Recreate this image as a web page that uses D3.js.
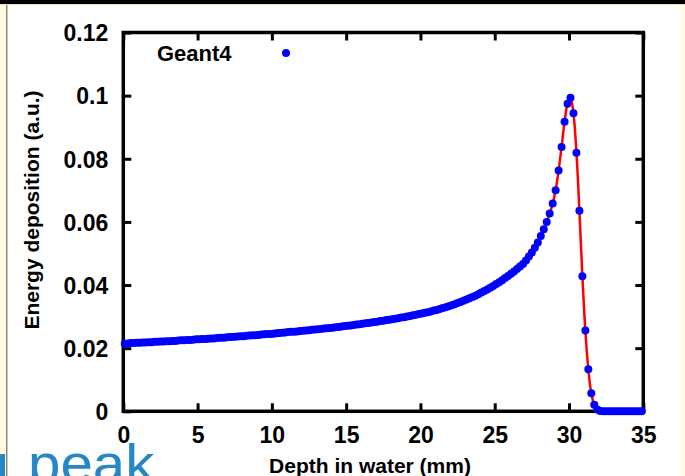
<!DOCTYPE html>
<html lang="en">
<head>
<meta charset="UTF-8">
<title>Bragg peak - Geant4</title>
<script src="https://cdn.jsdelivr.net/npm/d3@7"></script>
<style>
   html, body { margin: 0; padding: 0; background: #fff; }
   svg { display: block; }
   text { font-family: "Liberation Sans", Arial, Helvetica, sans-serif; }
   .tick text, .legend, .label { font-weight: bold; fill: #000; }
</style>
</head>
<body>
<div class="d3"></div>
<script>
// depth bins (mm) and Geant4 energy deposition (a.u.)
const depth = [
   0.1, 0.3, 0.5, 0.7, 0.9, 1.1, 1.3, 1.5, 1.7, 1.9,
   2.1, 2.3, 2.5, 2.7, 2.9, 3.1, 3.3, 3.5, 3.7, 3.9,
   4.1, 4.3, 4.5, 4.7, 4.9, 5.1, 5.3, 5.5, 5.7, 5.9,
   6.1, 6.3, 6.5, 6.7, 6.9, 7.1, 7.3, 7.5, 7.7, 7.9,
   8.1, 8.3, 8.5, 8.7, 8.9, 9.1, 9.3, 9.5, 9.7, 9.9,
   10.1, 10.3, 10.5, 10.7, 10.9, 11.1, 11.3, 11.5, 11.7, 11.9,
   12.1, 12.3, 12.5, 12.7, 12.9, 13.1, 13.3, 13.5, 13.7, 13.9,
   14.1, 14.3, 14.5, 14.7, 14.9, 15.1, 15.3, 15.5, 15.7, 15.9,
   16.1, 16.3, 16.5, 16.7, 16.9, 17.1, 17.3, 17.5, 17.7, 17.9,
   18.1, 18.3, 18.5, 18.7, 18.9, 19.1, 19.3, 19.5, 19.7, 19.9,
   20.1, 20.3, 20.5, 20.7, 20.9, 21.1, 21.3, 21.5, 21.7, 21.9,
   22.1, 22.3, 22.5, 22.7, 22.9, 23.1, 23.3, 23.5, 23.7, 23.9,
   24.1, 24.3, 24.5, 24.7, 24.9, 25.1, 25.3, 25.5, 25.7, 25.9,
   26.1, 26.3, 26.5, 26.7, 26.9, 27.1, 27.3, 27.5, 27.7, 27.9,
   28.1, 28.3, 28.5, 28.7, 28.9, 29.1, 29.3, 29.5, 29.7, 29.9,
   30.1, 30.3, 30.5, 30.7, 30.9, 31.1, 31.3, 31.5, 31.7, 31.9,
   32.1, 32.3, 32.5, 32.7, 32.9, 33.1, 33.3, 33.5, 33.7, 33.9,
   34.1, 34.3, 34.5, 34.7, 34.9
]
const edep = [
   0.0214, 0.0215, 0.0216, 0.0216, 0.0217, 0.0217, 0.0218, 0.0218, 0.0219, 0.0219,
   0.0220, 0.0220, 0.0221, 0.0221, 0.0222, 0.0222, 0.0223, 0.0223, 0.0224, 0.0225,
   0.0225, 0.0226, 0.0226, 0.0227, 0.0228, 0.0228, 0.0229, 0.0229, 0.0230, 0.0231,
   0.0231, 0.0232, 0.0233, 0.0233, 0.0234, 0.0235, 0.0235, 0.0236, 0.0237, 0.0238,
   0.0238, 0.0239, 0.0240, 0.0241, 0.0241, 0.0242, 0.0243, 0.0244, 0.0245, 0.0245,
   0.0246, 0.0247, 0.0248, 0.0249, 0.0250, 0.0251, 0.0252, 0.0252, 0.0253, 0.0254,
   0.0255, 0.0256, 0.0257, 0.0258, 0.0259, 0.0260, 0.0261, 0.0262, 0.0263, 0.0264,
   0.0265, 0.0266, 0.0267, 0.0269, 0.0270, 0.0271, 0.0272, 0.0273, 0.0275, 0.0276,
   0.0277, 0.0279, 0.0280, 0.0281, 0.0283, 0.0284, 0.0286, 0.0287, 0.0289, 0.0290,
   0.0292, 0.0293, 0.0295, 0.0297, 0.0298, 0.0300, 0.0302, 0.0304, 0.0306, 0.0308,
   0.0310, 0.0312, 0.0314, 0.0316, 0.0319, 0.0321, 0.0324, 0.0327, 0.0330, 0.0333,
   0.0336, 0.0339, 0.0343, 0.0346, 0.0350, 0.0354, 0.0358, 0.0362, 0.0366, 0.0371,
   0.0376, 0.0381, 0.0386, 0.0391, 0.0397, 0.0403, 0.0409, 0.0415, 0.0422, 0.0429,
   0.0436, 0.0443, 0.0451, 0.0459, 0.0467, 0.0478, 0.0490, 0.0503, 0.0518, 0.0535,
   0.0555, 0.0577, 0.0600, 0.0627, 0.0658, 0.0700, 0.0763, 0.0837, 0.0917, 0.0974,
   0.0993, 0.0944, 0.0819, 0.0635, 0.0428, 0.0256, 0.0133, 0.0057, 0.0021, 0.0006,
   0.0001, 0, 0, 0, 0, 0, 0, 0, 0, 0,
   0, 0, 0, 0, 0
]
// fitted curve drawn in red over the peak region
const fitFrom = 28.4
const fitTo = 32.0

const xTicks = [0, 5, 10, 15, 20, 25, 30, 35]
const yTicks = [0, 0.02, 0.04, 0.06, 0.08, 0.1, 0.12]
const yTickLabels = ['0', '0.02', '0.04', '0.06', '0.08', '0.1', '0.12']

const W = 685, H = 476
const frame = { left: 123.3, right: 643.3, top: 32.5, bottom: 411.3 }

const svg = d3.select('.d3').append('svg')
   .attr('width', W)
   .attr('height', H)

// slide background pieces
svg.append('rect').attr('x', 0).attr('y', 0).attr('width', W).attr('height', H).attr('fill', '#fff')
svg.append('rect').attr('x', 0).attr('y', 0).attr('width', 6).attr('height', H).attr('fill', '#fffbe3')
svg.append('rect').attr('x', 6).attr('y', 0).attr('width', 1.5).attr('height', H).attr('fill', '#8e8b6e')
svg.append('rect').attr('x', 681).attr('y', 0).attr('width', 4).attr('height', H).attr('fill', '#fffbe3')
svg.append('rect').attr('x', 0).attr('y', 0).attr('width', W).attr('height', 4).attr('fill', '#000')
svg.append('rect').attr('x', 0).attr('y', 4).attr('width', W).attr('height', 1).attr('fill', '#e8e4b8')

const x = d3.scaleLinear().domain([0, 35]).range([frame.left, frame.right])
const y = d3.scaleLinear().domain([0, 0.12]).range([frame.bottom, frame.top])

const tickLen = 8

// axes
const xAxis = svg.append('g')
   .attr('transform', `translate(0, ${frame.bottom})`)
   .call(d3.axisBottom(x).tickValues(xTicks).tickSize(-tickLen).tickPadding(0).tickFormat(d => d))
xAxis.select('.domain').remove()
xAxis.selectAll('.tick text').attr('y', 32).attr('dy', 0).style('font-size', '23px')

const xTop = svg.append('g')
   .attr('transform', `translate(0, ${frame.top})`)
   .call(d3.axisTop(x).tickValues(xTicks).tickSize(-tickLen).tickFormat(''))
xTop.select('.domain').remove()

const yAxis = svg.append('g')
   .attr('transform', `translate(${frame.left}, 0)`)
   .call(d3.axisLeft(y).tickValues(yTicks).tickSize(-tickLen)
      .tickFormat((d, i) => yTickLabels[i]))
yAxis.select('.domain').remove()
yAxis.selectAll('.tick text').attr('x', -15).attr('dy', '0.36em').style('font-size', '23px')

const yRight = svg.append('g')
   .attr('transform', `translate(${frame.right}, 0)`)
   .call(d3.axisRight(y).tickValues(yTicks).tickSize(-tickLen).tickFormat(''))
yRight.select('.domain').remove()

svg.selectAll('.tick line').attr('stroke', '#000').attr('stroke-width', 3)
svg.selectAll('.tick text').attr('fill', '#000')

// border
svg.append('rect')
   .attr('x', frame.left).attr('y', frame.top)
   .attr('width', frame.right - frame.left)
   .attr('height', frame.bottom - frame.top)
   .attr('fill', 'none')
   .attr('stroke', '#000')
   .attr('stroke-width', 3.5)

// labels
svg.append('text')
   .attr('class', 'label')
   .attr('transform', `translate(39, 210) rotate(-90)`)
   .attr('text-anchor', 'middle')
   .style('font-size', '21px')
   .text('Energy deposition (a.u.)')

svg.append('text')
   .attr('class', 'label')
   .attr('x', 370).attr('y', 473)
   .attr('text-anchor', 'middle')
   .style('font-size', '21px')
   .text('Depth in water (mm)')

// data
const points = depth.map((d, i) => ({ x: d, y: edep[i] }))

const fit = d3.line()
   .x(d => x(d.x))
   .y(d => y(d.y))
   .curve(d3.curveCatmullRom)

svg.append('path')
   .datum(points.filter(d => d.x >= fitFrom && d.x <= fitTo))
   .attr('d', fit)
   .attr('fill', 'none')
   .attr('stroke', '#ff0000')
   .attr('stroke-width', 2.5)

svg.append('g').selectAll('circle')
   .data(points)
   .enter()
   .append('circle')
   .attr('cx', d => x(d.x))
   .attr('cy', d => y(d.y))
   .attr('r', 4)
   .attr('fill', '#0000ff')

// legend
svg.append('text')
   .attr('class', 'legend')
   .attr('x', 157).attr('y', 61)
   .style('font-size', '22px')
   .text('Geant4')
svg.append('circle')
   .attr('cx', 286).attr('cy', 53).attr('r', 4)
   .attr('fill', '#0000ff')

// slide text underneath, mostly cut off by the crop
svg.append('text')
   .attr('transform', 'translate(9, 482) scale(1.1, 1)')
   .attr('text-anchor', 'end')
   .style('font-size', '53px')
   .attr('fill', '#2687c4')
   .text('Bragg')
svg.append('text')
   .attr('transform', 'translate(28, 482) scale(1.1, 1)')
   .style('font-size', '53px')
   .attr('fill', '#2687c4')
   .text('peak')
</script>
</body>
</html>
